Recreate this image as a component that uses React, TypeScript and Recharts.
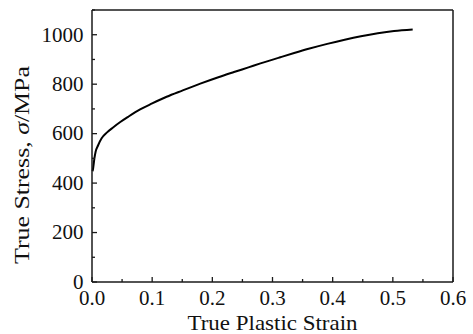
import { LineChart, Line, XAxis, YAxis, ReferenceLine } from "recharts";

const strain = [0.001, 0.002, 0.004, 0.006, 0.01, 0.016, 0.025, 0.035, 0.047, 0.06, 0.08, 0.1, 0.124, 0.15, 0.18, 0.21, 0.236, 0.26, 0.28, 0.313, 0.336, 0.36, 0.391, 0.42, 0.447, 0.475, 0.502, 0.533];
const stress = [448, 462, 500, 527, 552, 581, 605, 625, 647, 668, 698, 722, 749, 774, 802, 828, 849, 868, 884, 909, 926, 943, 963, 980, 994, 1006, 1015, 1021];

const xTicks = [0, 0.05, 0.1, 0.15, 0.2, 0.25, 0.3, 0.35, 0.4, 0.45, 0.5, 0.55, 0.6];
const xLabels = ["0.0", "", "0.1", "", "0.2", "", "0.3", "", "0.4", "", "0.5", "", "0.6"];
const yTicks = [0, 100, 200, 300, 400, 500, 600, 700, 800, 900, 1000, 1100];
const yLabels = ["0", "", "200", "", "400", "", "600", "", "800", "", "1000", ""];

const data = strain.map((s, i) => ({ strain: s, stress: stress[i] }));

const textStyle = { fontFamily: "Liberation Serif", fontSize: 21, fill: "#111" };
const INK = "#1a1a1a";

function XTick(props: any) {
  const { x, y, index } = props;
  const axisY = y - 10;
  const label = xLabels[index];
  return (
    <g>
      <line x1={x} y1={axisY} x2={x} y2={axisY - (label ? 5 : 3)} stroke={INK} strokeWidth={1.3} />
      {label && (
        <text x={x} y={axisY + 23} textAnchor="middle" style={textStyle}>
          {label}
        </text>
      )}
    </g>
  );
}

function YTick(props: any) {
  const { x, y, index } = props;
  const axisX = x + 8;
  const label = yLabels[index];
  return (
    <g>
      <line x1={axisX} y1={y} x2={axisX + (label ? 5 : 3)} y2={y} stroke={INK} strokeWidth={1.3} />
      {label && (
        <text x={axisX - 8.5} y={y + 6.8} textAnchor="end" style={textStyle}>
          {label}
        </text>
      )}
    </g>
  );
}

function XTitle(props: any) {
  const { viewBox } = props;
  const cx = viewBox.x + viewBox.width / 2;
  return (
    <text x={cx} y={viewBox.y + 48} textAnchor="middle" style={textStyle}
      textLength={170} lengthAdjust="spacingAndGlyphs">
      True Plastic Strain
    </text>
  );
}

function YTitle() {
  return (
    <text x={28.5} y={165} transform="rotate(-90, 28.5, 165)" textAnchor="middle" style={textStyle}
      textLength={198} lengthAdjust="spacingAndGlyphs">
      True Stress, <tspan fontStyle="italic">σ</tspan>/MPa
    </text>
  );
}

export default function App() {
  return (
    <div style={{ position: "absolute", left: 0, top: 0, background: "#fff" }}>
      <LineChart width={473} height={334} data={data} margin={{ top: 10, right: 20, left: 0, bottom: 0 }}>
        <XAxis
          dataKey="strain"
          type="number"
          domain={[0, 0.6]}
          ticks={xTicks}
          interval={0}
          height={52}
          tickSize={0}
          tickMargin={10}
          tick={<XTick />}
          axisLine={{ stroke: INK, strokeWidth: 1.5 }}
          label={<XTitle />}
        />
        <YAxis
          type="number"
          domain={[0, 1100]}
          ticks={yTicks}
          interval={0}
          width={92}
          tickSize={0}
          tickMargin={8}
          tick={<YTick />}
          axisLine={{ stroke: INK, strokeWidth: 1.5 }}
          label={<YTitle />}
        />
        <ReferenceLine y={1100} stroke={INK} strokeWidth={1.5} />
        <ReferenceLine x={0.6} stroke={INK} strokeWidth={1.5} />
        <Line
          dataKey="stress"
          type="monotone"
          stroke="#000"
          strokeWidth={2}
          dot={false}
          isAnimationActive={false}
        />
      </LineChart>
    </div>
  );
}
